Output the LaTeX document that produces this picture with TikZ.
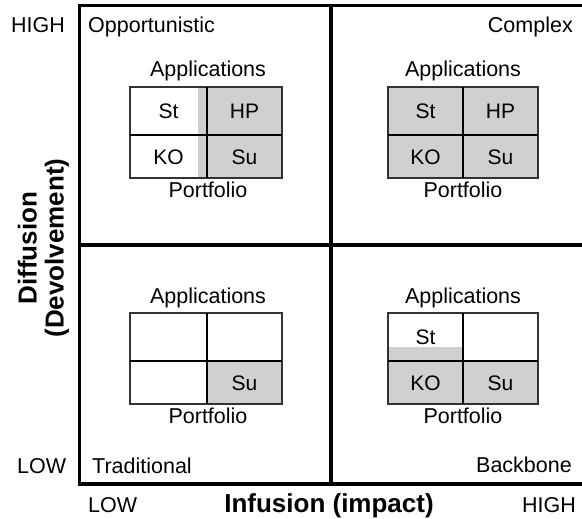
\documentclass[tikz,border=0pt]{standalone}
\usepackage{fontspec}
\setmainfont{Liberation Sans}
\begin{document}
\definecolor{cellgray}{RGB}{208,208,208}
\definecolor{gridline}{RGB}{50,50,50}
\begin{tikzpicture}[x=1pt,y=-1pt,
  lab/.style={inner sep=0pt,font=\fontsize{21.5}{24}\selectfont},
  axislab/.style={inner sep=0pt,font=\fontsize{26}{27}\selectfont\bfseries},
  cell/.style={inner sep=0pt,font=\fontsize{21}{24}\selectfont},
  frame/.style={line width=3.6pt,black},
  gridbox/.style={line width=1.8pt,draw=gridline},
  divider/.style={line width=1.4pt,black}]
\useasboundingbox (0,0) rectangle (582,519);

% quadrant frame (right side runs off the page)
\draw[frame] (590,5.5) -- (79.5,5.5) -- (79.5,484) -- (590,484);
\draw[frame] (331,5.5) -- (331,484);
\draw[frame] (79.5,245) -- (590,245);

% axis end labels
\node[lab,anchor=base west] (hy) at (11,33) {HIGH};
\node[lab,anchor=base west] (ly) at (17,473) {LOW};
\node[lab,anchor=base west] (lx) at (88,512) {LOW};
\node[lab,anchor=base east] (hx) at (576,512) {HIGH};
\node[axislab,anchor=base] (xlab) at (329,512) {Infusion (impact)};
\node[axislab,rotate=90,align=center] (ylab) at (43.5,248) {Diffusion\\(Devolvement)};

% quadrant names
\node[lab,anchor=base west] (qtl) at (88,33) {Opportunistic};
\node[lab,anchor=base east] (qtr) at (573,33) {Complex};
\node[lab,anchor=base west] (qbl) at (92,473) {Traditional};
\node[lab,anchor=base east] (qbr) at (572,472) {Backbone};

% --- Opportunistic: applications/portfolio grid
\fill[cellgray] (198,87) rectangle (282,178);
\draw[gridbox] (130,87) rectangle (282,178);
\draw[divider] (207,87) -- (207,178);
\draw[divider] (130,135) -- (282,135);
\node[lab,anchor=base] (apptl) at (208,77) {Applications};
\node[lab,anchor=base] (porttl) at (208,197) {Portfolio};
\node[cell] (sttl) at (168.5,111) {St};
\node[cell] (hptl) at (244.5,111) {HP};
\node[cell] (kotl) at (168.5,157) {KO};
\node[cell] (sutl) at (244.5,157) {Su};

% --- Complex
\fill[cellgray] (388,87) rectangle (538,178);
\draw[gridbox] (388,87) rectangle (538,178);
\draw[divider] (463,87) -- (463,178);
\draw[divider] (388,135) -- (538,135);
\node[lab,anchor=base] (apptr) at (463,77) {Applications};
\node[lab,anchor=base] (porttr) at (463,197) {Portfolio};
\node[cell] (sttr) at (425.5,111) {St};
\node[cell] (hptr) at (500.5,111) {HP};
\node[cell] (kotr) at (425.5,157) {KO};
\node[cell] (sutr) at (500.5,157) {Su};

% --- Traditional
\fill[cellgray] (207,361) rectangle (282,404);
\draw[gridbox] (130,313) rectangle (282,404);
\draw[divider] (207,313) -- (207,404);
\draw[divider] (130,361) -- (282,361);
\node[lab,anchor=base] (appbl) at (208,303) {Applications};
\node[lab,anchor=base] (portbl) at (208,423) {Portfolio};
\node[cell] (subl) at (244.5,383) {Su};

% --- Backbone: St cell only partly shaded
\fill[cellgray] (388,347) rectangle (463,361);
\fill[cellgray] (388,361) rectangle (538,404);
\draw[gridbox] (388,313) rectangle (538,404);
\draw[divider] (463,313) -- (463,404);
\draw[divider] (388,361) -- (538,361);
\node[lab,anchor=base] (appbr) at (463,303) {Applications};
\node[lab,anchor=base] (portbr) at (463,423) {Portfolio};
\node[cell] (stbr) at (425.5,337) {St};
\node[cell] (kobr) at (425.5,383) {KO};
\node[cell] (subr) at (500.5,383) {Su};
\end{tikzpicture}
\end{document}
